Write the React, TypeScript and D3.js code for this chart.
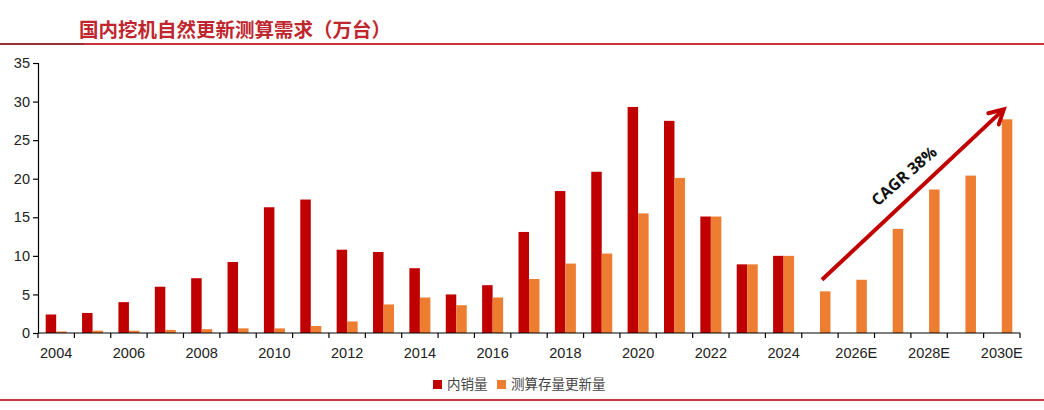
import React, { useEffect, useRef } from 'react';
import * as d3 from 'd3';

const categories = [
  '2004', '2005', '2006', '2007', '2008', '2009', '2010', '2011', '2012', '2013', '2014',
  '2015', '2016', '2017', '2018', '2019', '2020', '2021', '2022', '2023', '2024',
  '2025E', '2026E', '2027E', '2028E', '2029E', '2030E',
];
// 内销量 (no values for forecast years)
const domesticSales = [
  2.4, 2.6, 4.0, 6.0, 7.1, 9.2, 16.3, 17.3, 10.8, 10.5, 8.4,
  5.0, 6.2, 13.1, 18.4, 20.9, 29.3, 27.5, 15.1, 8.9, 10.0,
  null, null, null, null, null, null,
];
// 测算存量更新量
const replacement = [
  0.2, 0.3, 0.3, 0.4, 0.5, 0.6, 0.6, 0.9, 1.5, 3.7, 4.6,
  3.6, 4.6, 7.0, 9.0, 10.3, 15.5, 20.1, 15.1, 8.9, 10.0,
  5.4, 6.9, 13.5, 18.6, 20.4, 27.7,
];
const yTicks = [0, 5, 10, 15, 20, 25, 30, 35];
const seriesNames = ['内销量', '测算存量更新量'];
const seriesColors = ['#c00000', '#ed7d31'];
const title = '国内挖机自然更新测算需求（万台）';
const cagrLabel = 'CAGR 38%';
// arrow annotation: from 2025E to 2030E (in data units)
const arrowFrom = { cat: '2025E', value: 6.9 };
const arrowTo = { cat: '2030E', value: 29.0 };

const W = 1044;
const H = 410;

export default function App() {
  const ref = useRef<SVGSVGElement>(null);

  useEffect(() => {
    const svg = d3.select(ref.current);
    svg.selectAll('*').remove();

    const left = 38, right = 1020, top = 63, bottom = 333;
    const tickFont = '"Liberation Sans", Arial, sans-serif';

    const x = d3.scaleBand().domain(categories).range([left, right]).padding(0);
    const y = d3.scaleLinear().domain([0, 35]).range([bottom, top]);
    const pairW = 21;
    const x1 = d3.scaleBand()
      .domain(['a', 'b'])
      .range([(x.bandwidth() - pairW) / 2, (x.bandwidth() + pairW) / 2])
      .padding(0);

    // header line + title
    svg.append('line')
      .attr('x1', 0).attr('x2', W).attr('y1', 44).attr('y2', 44)
      .attr('stroke', '#c9333d').attr('stroke-width', 2);
    svg.append('line')
      .attr('x1', 0).attr('x2', 84).attr('y1', 44).attr('y2', 44)
      .attr('stroke', '#9a2f36').attr('stroke-width', 2);
    svg.append('text')
      .attr('x', 79).attr('y', 37)
      .style('font-family', '"Noto Sans CJK SC", sans-serif')
      .style('font-size', '19.5px')
      .style('font-weight', 'bold')
      .style('fill', '#c0262e')
      .text(title);

    // y axis
    const yAxis = svg.append('g')
      .attr('transform', `translate(${left},0)`)
      .call(d3.axisLeft(y).tickValues(yTicks).tickSize(5).tickPadding(3));
    yAxis.selectAll('path').attr('stroke', '#000').attr('stroke-width', 1.2);
    yAxis.selectAll('line').attr('stroke', '#000').attr('stroke-width', 1.2);
    yAxis.selectAll('text')
      .style('font-family', tickFont).style('font-size', '14.5px').style('fill', '#222');

    // bars
    const rows = categories.map((c, i) => ({ c, a: domesticSales[i], b: replacement[i] }));
    const g = svg.append('g');
    rows.forEach(r => {
      (['a', 'b'] as const).forEach((k, si) => {
        const v = r[k];
        if (v == null) return;
        g.append('rect')
          .attr('x', (x(r.c) as number) + (x1(k) as number))
          .attr('y', y(v))
          .attr('width', x1.bandwidth())
          .attr('height', y(0) - y(v))
          .attr('fill', seriesColors[si]);
      });
    });

    // x axis
    const xa = svg.append('g');
    xa.append('line')
      .attr('x1', left).attr('x2', right).attr('y1', bottom).attr('y2', bottom)
      .attr('stroke', '#000').attr('stroke-width', 1.2);
    categories.concat(['__end']).forEach((c, i) => {
      const px = i < categories.length ? (x(c) as number) : right;
      xa.append('line')
        .attr('x1', px).attr('x2', px).attr('y1', bottom).attr('y2', bottom + 5)
        .attr('stroke', '#000').attr('stroke-width', 1.2);
    });
    categories.forEach((c, i) => {
      if (i % 2 !== 0) return;
      xa.append('text')
        .attr('x', (x(c) as number) + x.bandwidth() / 2)
        .attr('y', 358)
        .attr('text-anchor', 'middle')
        .style('font-family', tickFont).style('font-size', '14.5px').style('fill', '#222')
        .text(c);
    });

    // CAGR arrow
    const ax1 = (x(arrowFrom.cat) as number) + x.bandwidth() / 2 + 2;
    const ay1 = y(arrowFrom.value);
    const ax2 = (x(arrowTo.cat) as number) + x.bandwidth() / 2 + 2;
    const ay2 = y(arrowTo.value);
    const ang = Math.atan2(ay2 - ay1, ax2 - ax1);
    const arrowColor = '#c00000';
    svg.append('line')
      .attr('x1', ax1).attr('y1', ay1).attr('x2', ax2 - 2 * Math.cos(ang)).attr('y2', ay2 - 2 * Math.sin(ang))
      .attr('stroke', arrowColor).attr('stroke-width', 4);
    const hl = 16, spread = 0.5;
    const headPts = [
      [ax2 - hl * Math.cos(ang - spread), ay2 - hl * Math.sin(ang - spread)],
      [ax2, ay2],
      [ax2 - hl * Math.cos(ang + spread), ay2 - hl * Math.sin(ang + spread)],
    ];
    svg.append('path')
      .attr('d', d3.line()(headPts as [number, number][]))
      .attr('fill', 'none').attr('stroke', arrowColor).attr('stroke-width', 4)
      .attr('stroke-linejoin', 'miter').attr('stroke-linecap', 'round');
    svg.append('text')
      .attr('transform', `translate(905,177) rotate(${(ang * 180) / Math.PI + 2})`)
      .attr('text-anchor', 'middle').attr('dominant-baseline', 'middle')
      .style('font-family', '"Open Sans", "Liberation Sans", sans-serif')
      .style('font-size', '16px').style('font-weight', 'bold').style('fill', '#111')
      .text(cagrLabel);

    // legend
    const legend = svg.append('g').attr('transform', 'translate(433,385)');
    const offsets = [0, 64];
    seriesNames.forEach((name, i) => {
      legend.append('rect')
        .attr('x', offsets[i]).attr('y', -5).attr('width', 9).attr('height', 9)
        .attr('fill', seriesColors[i]);
      legend.append('text')
        .attr('x', offsets[i] + 14).attr('y', 0)
        .attr('dominant-baseline', 'middle')
        .style('font-family', '"Noto Sans CJK SC", sans-serif')
        .style('font-size', '13.5px').style('fill', '#444')
        .text(name);
    });

    // footer line
    svg.append('line')
      .attr('x1', 0).attr('x2', W).attr('y1', 400).attr('y2', 400)
      .attr('stroke', '#c9373f').attr('stroke-width', 2);
  }, []);

  return (
    <svg
      ref={ref}
      width={W}
      height={H}
      style={{ position: 'absolute', left: 0, top: 0, background: '#fff' }}
    />
  );
}
